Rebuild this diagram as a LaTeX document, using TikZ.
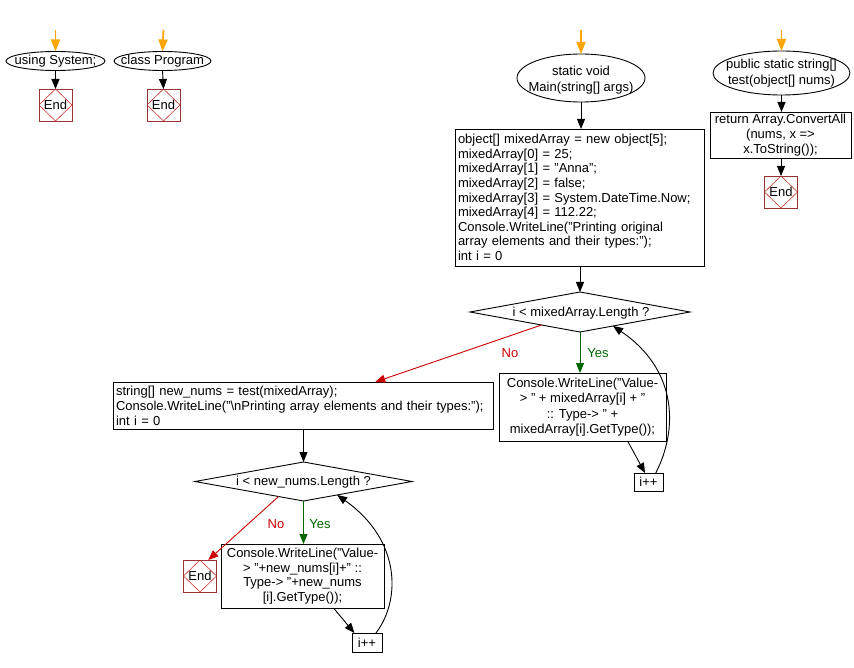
\documentclass[tikz,border=0pt]{standalone}
\usepackage{fontspec}
\setmainfont{Liberation Sans}
\usetikzlibrary{arrows.meta,shapes.geometric,calc}
\definecolor{flowred}{RGB}{204,0,0}
\definecolor{flowgreen}{RGB}{0,102,0}
\definecolor{startorange}{RGB}{255,165,0}
\definecolor{endbrown}{RGB}{153,51,51}
\definecolor{enddiam}{RGB}{204,51,51}
\begin{document}
\begin{tikzpicture}[x=1pt,y=-1pt,
  font=\fontsize{13}{15}\selectfont,
  every node/.style={inner sep=0pt, outer sep=0pt},
  ell/.style={draw, ellipse, line width=0.9pt, fill=white},
  box/.style={draw, rectangle, line width=0.9pt, fill=white},
  dia/.style={draw, diamond, line width=0.9pt, fill=white},
  endbox/.style={draw=endbrown, line width=0.9pt, fill=white,
    minimum width=33pt, minimum height=32pt,
    path picture={\draw[enddiam, line width=0.6pt]
      (path picture bounding box.north) -- (path picture bounding box.east) --
      (path picture bounding box.south) -- (path picture bounding box.west) -- cycle;}},
  arr/.style={-{Triangle[length=10pt,width=8pt]}, line width=0.9pt},
  startarr/.style={-{Triangle[length=12pt,width=9pt]}, draw=startorange, line width=1.8pt},
  noarr/.style={arr, draw=flowred},
  yesarr/.style={arr, draw=flowgreen},
  notxt/.style={text=flowred},
  yestxt/.style={text=flowgreen}]
\fill[white] (0,0) rectangle (854,668);
\useasboundingbox (0,0) rectangle (854,668);

% ---- using System;
\node[ell, minimum width=99pt, minimum height=19pt] (ell1) at (55.5,61) {};
\node (ell1t) at (55.5,61) {using System;};
\node[endbox] (end1) at (55.5,105) {End};
\coordinate (s1) at (55.5,30);
\draw[startarr] (s1) -- (ell1.north);
\draw[arr] (ell1.south) -- (end1.north);

% ---- class Program
\node[ell, minimum width=97pt, minimum height=19pt] (ell2) at (162.5,61) {};
\node (ell2t) at (162.5,61) {class Program};
\node[endbox] (end2) at (163.5,105) {End};
\coordinate (s2) at (163.5,30);
\draw[startarr] (s2) -- (ell2.north);
\draw[arr] (ell2.south) -- (end2.north);

% ---- test method
\node[ell, minimum width=137pt, minimum height=44pt] (ell4) at (781.5,73) {};
\node[align=center, font=\fontsize{13}{16}\selectfont] (ell4t) at (781.5,73) {public static string[]\\test(object[] nums)};
\node[box, minimum width=141pt, minimum height=46pt, align=center] (rb) at (780.5,135)
  {return Array.ConvertAll\\(nums, x =>\\x.ToString());};
\node[endbox] (end3) at (781,192) {End};
\coordinate (s4) at (781.5,30);
\draw[startarr] (s4) -- (ell4.north);
\draw[arr] (ell4.south) -- (ell4.south |- rb.north);
\draw[arr] (rb.south -| end3.north) -- (end3.north);

% ---- Main
\node[ell, minimum width=128pt, minimum height=48pt] (ell3) at (581,78) {};
\node[align=center, font=\fontsize{13}{16}\selectfont] (ell3t) at (581,80) {static void\\Main(string[] args)};
\coordinate (s3) at (581,30);
\draw[startarr] (s3) -- (ell3.north);

\node[box, inner xsep=3pt, text width=243pt, align=left, minimum height=137pt,
  font=\fontsize{13}{14.6}\selectfont] (b1) at (579.5,197.5)
  {object[] mixedArray = new object[5];\\
   mixedArray[0] = 25;\\
   mixedArray[1] = "Anna";\\
   mixedArray[2] = false;\\
   mixedArray[3] = System.DateTime.Now;\\
   mixedArray[4] = 112.22;\\
   Console.WriteLine("Printing original\\
   array elements and their types:");\\
   int i = 0};
\draw[arr] (ell3.south) -- (ell3.south |- b1.north);

\node[dia, minimum width=220pt, minimum height=40pt] (d1) at (580,312) {};
\node (d1t) at (581,313) {i < mixedArray.Length ?};
\draw[arr] (d1.north |- b1.south) -- (d1.north);

\node[box, minimum width=167pt, minimum height=68pt, align=center,
  font=\fontsize{13}{15.5}\selectfont] (b2) at (582.5,407)
  {Console.WriteLine("Value-\\> " + mixedArray[i] + "\\:: Type-> " +\\mixedArray[i].GetType());};
\draw[yesarr] (d1.south) -- (d1.south |- b2.north);
\node[yestxt] (yes1) at (598,353) {Yes};

\node[box, minimum width=29pt, minimum height=18pt] (ipp1) at (648.5,482) {i++};
\draw[arr] ($(b2.south west)!0.77!(b2.south east)$) -- ($(ipp1.north west)!0.38!(ipp1.north east)$);
\draw[arr] ($(ipp1.north west)!0.75!(ipp1.north east)$) .. controls (678,430) and (678,370) .. ($(d1.east)!0.7!(d1.south)$);

\node[box, inner xsep=3pt, text width=374pt, align=left, minimum height=47pt] (b3) at (303,405.5)
  {string[] new\_nums = test(mixedArray);\\
   Console.WriteLine("\textbackslash nPrinting array elements and their types:");\\
   int i = 0};
\draw[noarr] ($(d1.west)!0.65!(d1.south)$) -- ($(b3.north west)!0.69!(b3.north east)$);
\node[notxt] (no1) at (510,353) {No};

\node[dia, minimum width=217pt, minimum height=39pt] (d2) at (303.5,481.5) {};
\node (d2t) at (303.5,482.5) {i < new\_nums.Length ?};
\draw[arr] (d2.north |- b3.south) -- (d2.north);

\node[box, minimum width=163pt, minimum height=64pt, align=center,
  font=\fontsize{13}{14.7}\selectfont] (b4) at (302.5,576)
  {Console.WriteLine("Value-\\> "+new\_nums[i]+" ::\\Type-> "+new\_nums\\{}[i].GetType());};
\draw[yesarr] (d2.south) -- (d2.south |- b4.north);
\node[yestxt] (yes2) at (320,524) {Yes};

\node[endbox] (end4) at (200,576) {End};
\draw[noarr] ($(d2.west)!0.77!(d2.south)$) -- ($(end4.north west)!0.75!(end4.north east)$);
\node[notxt] (no2) at (276,524) {No};

\node[box, minimum width=30pt, minimum height=19pt] (ipp2) at (367,642.5) {i++};
\draw[arr] ($(b4.south west)!0.69!(b4.south east)$) -- ($(ipp2.north west)!0.08!(ipp2.north east)$);
\draw[arr] ($(ipp2.north west)!0.8!(ipp2.north east)$) .. controls (401,600) and (401,540) .. ($(d2.east)!0.69!(d2.south)$);
\end{tikzpicture}
\end{document}
